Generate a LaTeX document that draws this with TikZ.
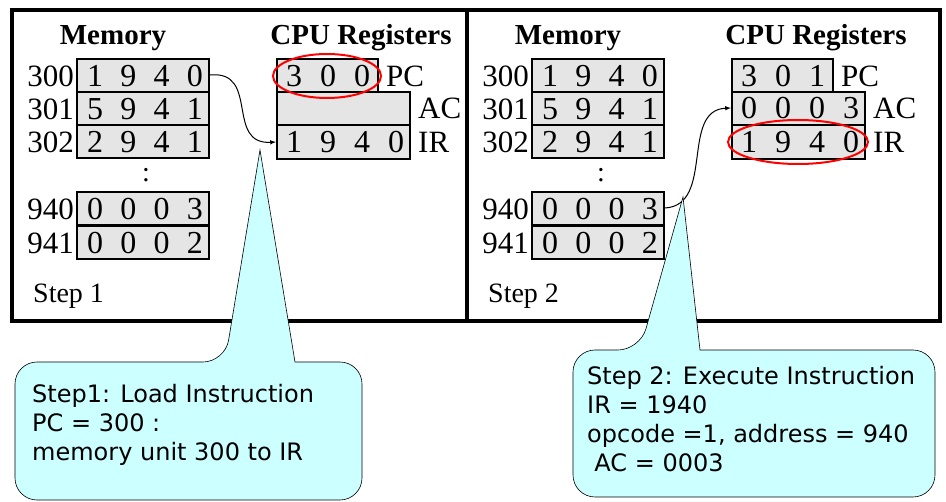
\documentclass[tikz,border=0pt]{standalone}
\usepackage{fontspec}
\setmainfont{Liberation Serif}
\newfontfamily\calloutfont{DejaVu Sans}
\usetikzlibrary{shapes.geometric}
\definecolor{noteblue}{RGB}{204,255,255}
\begin{document}
\begin{tikzpicture}[x=1pt, y=-1pt,
    cell/.style={draw, line width=2pt, fill=gray!20},
    digit/.style={font=\fontsize{32}{32}\selectfont, inner sep=0pt},
    addr/.style={font=\fontsize{31}{31}\selectfont, inner sep=0pt, anchor=east},
    title/.style={font=\fontsize{29}{29}\selectfont\bfseries, inner sep=0pt},
    reglbl/.style={anchor=west, inner sep=0pt, font=\fontsize{31}{31}\selectfont},
    hilite/.style={draw=red, line width=2pt, ellipse},
    callout/.style={draw, fill=noteblue, line width=0.6pt},
    ctext/.style={font=\fontsize{24}{29}\calloutfont, align=left, anchor=north west, inner sep=0pt}]

        % keep the reference margins
        \useasboundingbox (0,0) rectangle (946,502);

        % frame of the two steps
        \draw[line width=4pt] (12,10) rectangle (940,321);
        \draw[line width=4pt] (467,10) -- (467,321);

        % the two panels, shifted by 455
        \foreach \dx/\step in {0/1, 455/2} {
          \begin{scope}[xshift=\dx]
            \node[title] (mem\step) at (113,38) {Memory};
            \node[title] (cpu\step) at (361,38) {CPU Registers};
            % memory cells
            \foreach \a/\y/\ds in {300/59/{1,9,4,0}, 301/92/{5,9,4,1}, 302/125/{2,9,4,1},
                                   940/192/{0,0,0,3}, 941/226/{0,0,0,2}} {
              \draw[cell] (77,\y) rectangle (209,\y+33);
              \node[addr] (a\a\step) at (74,\y+17) {\a};
              \foreach \d [count=\i from 0] in \ds
                \node[digit] (m\a\i\step) at (95+33.3*\i,\y+17) {\d};
            }
            \node[inner sep=0pt, font=\fontsize{28}{28}\selectfont] (dots\step) at (146,175) {:};
            \node[anchor=west, inner sep=0pt, font=\fontsize{28}{28}\selectfont] (lbl\step) at (33,296) {Step \step};
            % registers
            \draw[cell] (277,59) rectangle (378,92);
            \draw[cell] (277,92) rectangle (410,125);
            \draw[cell] (277,125) rectangle (410,159);
            \node[reglbl] (pc\step) at (386,76) {PC};
            \node[reglbl] (ac\step) at (418,108) {AC};
            \node[reglbl] (ir\step) at (418,142) {IR};
          \end{scope}
        }

        % register contents
        \foreach \d [count=\i from 0] in {3,0,0}
          \node[digit] (pcA\i) at (294+34*\i,76) {\d};
        \foreach \d [count=\i from 0] in {1,9,4,0}
          \node[digit] (irA\i) at (294+34*\i,142) {\d};
        \foreach \d [count=\i from 0] in {3,0,1}
          \node[digit] (pcB\i) at (749+34*\i,76) {\d};
        \foreach \d [count=\i from 0] in {0,0,0,3}
          \node[digit] (acB\i) at (749+34*\i,108) {\d};
        \foreach \d [count=\i from 0] in {1,9,4,0}
          \node[digit] (irB\i) at (749+34*\i,142) {\d};

        % highlighted registers
        \node[hilite, minimum width=108, minimum height=44] (hlA) at (327,76) {};
        \node[hilite, minimum width=140, minimum height=44] (hlB) at (798,142) {};

        % transfers
        \coordinate (fromA) at (210,75);
        \coordinate (toA) at (276,142);
        \coordinate (fromB) at (665,208);
        \coordinate (toB) at (731,108);
        \draw[-latex, line width=1pt] (fromA) .. controls (260,70) and (225,145) .. (toA);
        \draw[-latex, line width=1pt] (fromB) .. controls (715,205) and (680,110) .. (toB);

        % callouts
        \draw[callout] (225,362) [sharp corners] -- (260,150) -- (295,362) [rounded corners=22]
            -- (362,362) -- (362,500) -- (15,500) -- (15,362) -- cycle;
        \node[ctext] (noteA) at (32,384) {Step1: Load Instruction\\PC = 300 :\\memory unit 300 to IR};
        \draw[callout] (640,350) [sharp corners] -- (683,197) -- (700,350) [rounded corners=22]
            -- (935,350) -- (935,497) -- (573,497) -- (573,350) -- cycle;
        \node[ctext] (noteB) at (587,366) {Step 2: Execute Instruction\\IR = 1940\\opcode =1, address = 940\\\hspace*{0.3em}AC = 0003};
\end{tikzpicture}
\end{document}
